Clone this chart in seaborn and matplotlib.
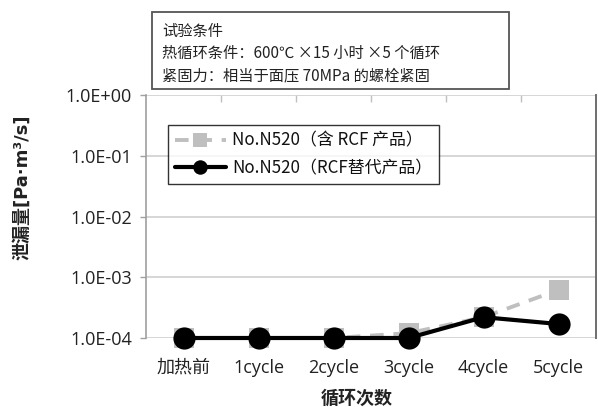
import matplotlib
matplotlib.use("Agg")
import matplotlib.pyplot as plt
from matplotlib.patches import Rectangle
import seaborn as sns
import pandas as pd

# Data
cycles = ["加热前", "1cycle", "2cycle", "3cycle", "4cycle", "5cycle"]
leak_rcf = [1.0e-4, 1.0e-4, 1.0e-4, 1.2e-4, 2.2e-4, 6.2e-4]
leak_alt = [1.0e-4, 1.0e-4, 1.0e-4, 1.0e-4, 2.2e-4, 1.7e-4]
label_rcf = "No.N520（含 RCF 产品）"
label_alt = "No.N520（RCF替代产品）"
y_ticks = [1e-4, 1e-3, 1e-2, 1e-1, 1e0]
y_tick_labels = ["1.0E-04", "1.0E-03", "1.0E-02", "1.0E-01", "1.0E+00"]
notes = ["试验条件",
         "热循环条件：600℃ ×15 小时 ×5 个循环",
         "紧固力：相当于面压 70MPa 的螺栓紧固"]

sns.set_style("white")
plt.rcParams["font.family"] = ["Noto Sans CJK SC", "DejaVu Sans"]

W, H = 598, 407
fig = plt.figure(figsize=(W / 100, H / 100), dpi=100)
ax = fig.add_axes([146 / W, 1 - 338 / H, 450 / W, 243 / H])

df_rcf = pd.DataFrame({"cycle": cycles, "leak": leak_rcf})
df_alt = pd.DataFrame({"cycle": cycles, "leak": leak_alt})

sns.lineplot(data=df_rcf, x="cycle", y="leak", ax=ax, color="#bfbfbf",
             lw=2.8, marker="s", markersize=15, markeredgewidth=0,
             dashes=(3.5, 2.5), label=label_rcf, zorder=3, clip_on=False)
sns.lineplot(data=df_alt, x="cycle", y="leak", ax=ax, color="black",
             lw=3.0, marker="o", markersize=16, markeredgewidth=0,
             label=label_alt, zorder=4, clip_on=False)

ax.set_yscale("log")
ax.set_ylim(1e-4, 1e0)
ax.set_xlim(-0.5, len(cycles) - 0.5)
ax.set_yticks(y_ticks)
ax.set_yticklabels(y_tick_labels)
ax.minorticks_off()
ax.yaxis.grid(True, color="#d0d0d0", lw=1.2)
ax.set_axisbelow(True)
ax.set_xlabel("")
ax.set_ylabel("")

for lab in ax.get_yticklabels():
    lab.set_fontfamily(["Open Sans", "DejaVu Sans"])
    lab.set_fontsize(13)
    lab.set_color("#222222")
for lab in ax.get_xticklabels():
    lab.set_fontfamily(["Open Sans", "Noto Sans CJK SC"])
    lab.set_fontsize(13)
    lab.set_color("#222222")
# CJK tick label needs the CJK family
ax.get_xticklabels()[0].set_fontfamily(["Noto Sans CJK SC", "DejaVu Sans"])

ax.tick_params(axis="y", which="major", direction="out", length=4,
               width=1, color="#a0a0a0", pad=6, left=True)
ax.tick_params(axis="x", which="major", length=0, pad=15)

for side in ["top", "bottom"]:
    ax.spines[side].set_visible(False)
ax.spines["left"].set_color("#a0a0a0")
ax.spines["left"].set_linewidth(1.2)
ax.spines["right"].set_color("#6e6e6e")
ax.spines["right"].set_linewidth(1.4)

# small separators hanging from the top gridline between categories
top = ax.secondary_xaxis("top")
top.set_xticks([i + 0.5 for i in range(len(cycles) - 1)])
top.set_xticklabels([])
top.tick_params(direction="in", length=5, width=1, color="#c0c0c0")
top.spines["top"].set_visible(False)

leg = ax.legend(loc="upper left", bbox_to_anchor=(0.049, 0.877),
                borderaxespad=0, frameon=True, fancybox=False,
                edgecolor="black", fontsize=12.2, handlelength=3.0,
                markerscale=0.65, borderpad=0.4, labelspacing=0.55,
                handletextpad=0.4)
leg.get_frame().set_linewidth(1.0)
for t in leg.get_texts():
    t.set_color("#111111")

fig.text(22 / W, 1 - 187 / H, "泄漏量[Pa·m³/s]", rotation=90,
         ha="center", va="center", fontsize=13, fontweight="bold",
         color="#222222", family=["DejaVu Sans", "Noto Sans CJK SC"])
fig.text(357 / W, 1 - 398 / H, "循环次数", ha="center", va="center",
         fontsize=13, fontweight="bold", color="#222222")

# test condition box
fig.patches.append(Rectangle((152 / W, 1 - 89 / H), (509 - 152) / W,
                             (89 - 12) / H, transform=fig.transFigure,
                             facecolor="white", edgecolor="#555555",
                             lw=1.3, zorder=5))
for i, line in enumerate(notes):
    fig.text(162 / W, 1 - (31 + i * 22.5) / H, line, ha="left",
             va="center", fontsize=11, color="#222222", zorder=6)

fig.savefig("out.png", dpi=100)
